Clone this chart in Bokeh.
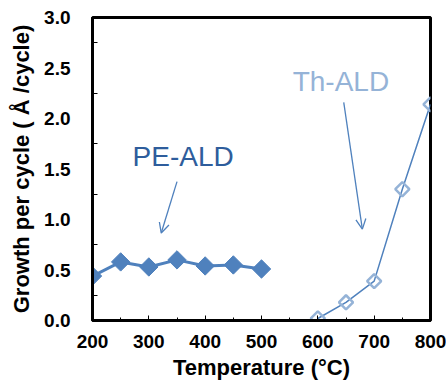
import math
from bokeh.plotting import figure
from bokeh.models import FixedTicker, PrintfTickFormatter, Arrow, OpenHead, Range1d
from bokeh.core.properties import value
from bokeh.embed import file_html
from bokeh.resources import INLINE

# Data
pe_temp = [200, 250, 300, 350, 400, 450, 500]
pe_gpc = [0.44, 0.58, 0.53, 0.60, 0.54, 0.55, 0.51]
th_temp = [600, 650, 700, 750, 800]
th_gpc = [0.02, 0.18, 0.39, 1.30, 2.14]

x_ticks = [200, 300, 400, 500, 600, 700, 800]
x_minor = [250, 350, 450, 550, 650, 750]
y_ticks = [0.0, 0.5, 1.0, 1.5, 2.0, 2.5, 3.0]
y_minor = [0.25, 0.75, 1.25, 1.75, 2.25, 2.75]

pe_label = "PE-ALD"
th_label = "Th-ALD"
pe_label_pos = (361, 1.62)
th_label_pos = (641, 2.37)
pe_arrow = (350, 1.375, 322, 0.866)
th_arrow = (646, 2.16, 679, 0.905)

x_title = "Temperature (°C)"
y_title = "Growth per cycle ( Å /cycle)"

FONT = "Liberation Sans"
PE_COLOR = "#4F81BD"
TH_COLOR = "#95B3D7"

p = figure(width=446, height=382, output_backend="svg", toolbar_location=None,
           x_range=Range1d(200, 800), y_range=Range1d(0, 3.0),
           min_border_left=92, min_border_right=16, min_border_top=17, min_border_bottom=61)
p.xgrid.visible = False
p.ygrid.visible = False
p.outline_line_color = "black"
p.outline_line_width = 3
p.outline_line_alpha = 1.0
p.background_fill_color = "white"
p.border_fill_color = "white"

# x axis
p.xaxis.ticker = FixedTicker(ticks=x_ticks, minor_ticks=x_minor)
p.xaxis.axis_line_width = 3
p.xaxis.major_tick_in = 5
p.xaxis.major_tick_out = 0
p.xaxis.minor_tick_in = 3
p.xaxis.minor_tick_out = 0
p.xaxis.major_tick_line_width = 1
p.xaxis.minor_tick_line_width = 1
p.xaxis.major_label_text_font = FONT
p.xaxis.major_label_text_font_size = "19px"
p.xaxis.major_label_text_font_style = "bold"
p.xaxis.major_label_text_color = "black"
p.xaxis.major_label_standoff = 14
p.xaxis.axis_label = x_title
p.xaxis.axis_label_text_font = FONT
p.xaxis.axis_label_text_font_size = "22px"
p.xaxis.axis_label_text_font_style = "bold"
p.xaxis.axis_label_text_color = "black"
p.xaxis.axis_label_standoff = 4

# y axis
p.yaxis.ticker = FixedTicker(ticks=y_ticks, minor_ticks=y_minor)
p.yaxis.formatter = PrintfTickFormatter(format="%.1f")
p.yaxis.axis_line_width = 3
p.yaxis.major_tick_in = 0
p.yaxis.major_tick_out = 0
p.yaxis.minor_tick_in = 5
p.yaxis.minor_tick_out = 0
p.yaxis.minor_tick_line_width = 1
p.yaxis.major_label_text_font = FONT
p.yaxis.major_label_text_font_size = "19px"
p.yaxis.major_label_text_font_style = "bold"
p.yaxis.major_label_text_color = "black"
p.yaxis.major_label_standoff = 22
p.yaxis.axis_label = y_title
p.yaxis.axis_label_text_font = FONT
p.yaxis.axis_label_text_font_size = "22px"
p.yaxis.axis_label_text_font_style = "bold"
p.yaxis.axis_label_text_color = "black"
p.yaxis.axis_label_standoff = 7

# PE-ALD
p.line(pe_temp, pe_gpc, line_color=PE_COLOR, line_width=3)
p.scatter(pe_temp, pe_gpc, marker="square", size=13, angle=math.pi / 4,
          fill_color=PE_COLOR, line_color=PE_COLOR, line_width=1)

# Th-ALD
p.line(th_temp, th_gpc, line_color=PE_COLOR, line_width=1.5)
p.scatter(th_temp, th_gpc, marker="square", size=10, angle=math.pi / 4,
          fill_alpha=0, line_color=TH_COLOR, line_width=2.5)

# annotation texts
p.text(x=[pe_label_pos[0]], y=[pe_label_pos[1]], text=[pe_label],
       text_font=value(FONT), text_font_size="28px", text_color="#2E5D9C",
       text_align="center", text_baseline="middle")
p.text(x=[th_label_pos[0]], y=[th_label_pos[1]], text=[th_label],
       text_font=value(FONT), text_font_size="28px", text_color=TH_COLOR,
       text_align="center", text_baseline="middle")

for (x0, y0, x1, y1) in [pe_arrow, th_arrow]:
    p.add_layout(Arrow(x_start=x0, y_start=y0, x_end=x1, y_end=y1,
                       line_color=PE_COLOR, line_width=1.3,
                       end=OpenHead(size=10, line_color=PE_COLOR, line_width=1.3)))

open("out.html", "w").write(file_html(p, INLINE))
